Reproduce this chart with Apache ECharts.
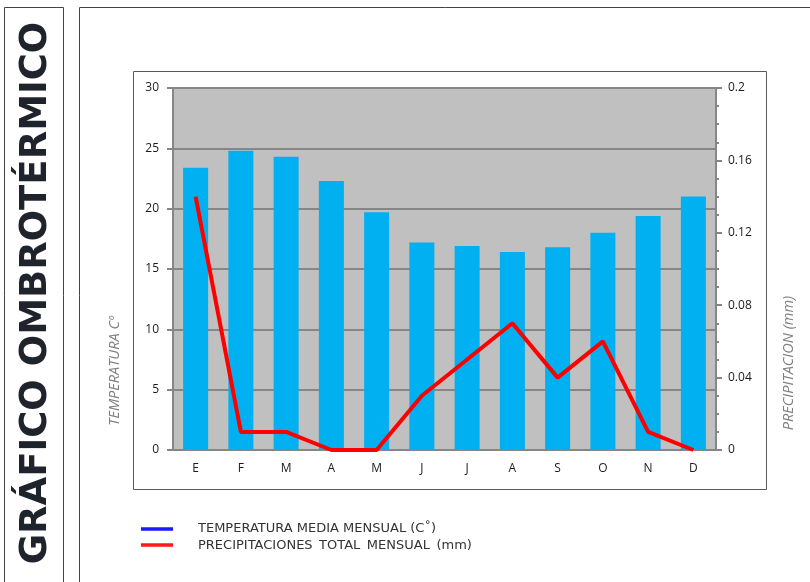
<!DOCTYPE html>
<html>
<head>
<meta charset="utf-8">
<script src="https://cdn.jsdelivr.net/npm/echarts@6/dist/echarts.min.js"></script>
<style>
  html, body { margin: 0; padding: 0; background: #fff; }
  #chart { width: 810px; height: 582px; }
</style>
</head>
<body>
<div id="chart"></div>
<script>
// meses
const months = ['E', 'F', 'M', 'A', 'M', 'J', 'J', 'A', 'S', 'O', 'N', 'D']
// temperatura media mensual (C)
const temperatura = [23.4, 24.8, 24.3, 22.3, 19.7, 17.2, 16.9, 16.4, 16.8, 18.0, 19.4, 21.0]
// precipitacion total mensual (mm)
const precipitacion = [0.14, 0.01, 0.01, 0, 0, 0.03, 0.05, 0.07, 0.04, 0.06, 0.01, 0]

const legendItems = ['TEMPERATURA MEDIA MENSUAL (C˚)', 'PRECIPITACIONES TOTAL MENSUAL (mm)']

const chart = echarts.init(document.getElementById('chart'), null, { renderer: 'canvas' })

const tickFont = { color: '#1a1a1a', fontSize: 12, fontFamily: 'Open Sans' }

chart.setOption({
  animation: false,
  grid: {
    left: 173, right: 94, top: 88, bottom: 132,
    show: true, backgroundColor: '#c0c0c0', borderWidth: 0
  },
  graphic: [
    // paneles
    { type: 'rect', shape: { x: 4.5, y: 7.5, width: 59, height: 600 }, style: { fill: 'none', stroke: '#444', lineWidth: 1 } },
    { type: 'rect', shape: { x: 79.5, y: 7.5, width: 760, height: 600 }, style: { fill: 'none', stroke: '#444', lineWidth: 1 } },
    { type: 'rect', shape: { x: 133.5, y: 71.5, width: 633, height: 418 }, style: { fill: 'none', stroke: '#595959', lineWidth: 1 } },
    {
      type: 'text', x: 36, y: 293, rotation: Math.PI / 2,
      style: {
        text: 'GRÁFICO OMBROTÉRMICO', fill: '#1f232b',
        font: 'bold 37px "DejaVu Sans"', align: 'center', verticalAlign: 'middle'
      }
    },
    {
      type: 'text', x: 115, y: 371, rotation: Math.PI / 2,
      style: {
        text: 'TEMPERATURA Cº', fill: '#808080',
        font: 'italic 14.5px "Open Sans"', align: 'center', verticalAlign: 'middle'
      }
    },
    {
      type: 'text', x: 789, y: 363, rotation: Math.PI / 2,
      style: {
        text: 'PRECIPITACION (mm)', fill: '#808080',
        font: 'italic 14.5px "Open Sans"', align: 'center', verticalAlign: 'middle'
      }
    },
    // leyenda
    { type: 'line', shape: { x1: 141, y1: 529, x2: 173, y2: 529 }, style: { stroke: '#1a1aff', lineWidth: 3.5 } },
    { type: 'line', shape: { x1: 141, y1: 545, x2: 173, y2: 545 }, style: { stroke: '#ff1a1a', lineWidth: 3.5 } },
    { type: 'text', x: 198, y: 529, style: { text: legendItems[0], fill: '#333', font: '13px "DejaVu Sans"', verticalAlign: 'middle' } },
    { type: 'text', x: 198, y: 546, style: { text: legendItems[1].replace(/ /g, '\u2002'), fill: '#333', font: '13px "DejaVu Sans"', verticalAlign: 'middle' } }
  ],
  xAxis: {
    type: 'category',
    data: months,
    axisLine: { lineStyle: { color: '#868686', width: 2 } },
    axisTick: { show: false },
    axisLabel: { ...tickFont, margin: 13 }
  },
  yAxis: [
    {
      type: 'value', min: 0, max: 30, interval: 5,
      axisLine: { show: true, lineStyle: { color: '#868686', width: 2 } },
      axisTick: { show: true, length: 6, lineStyle: { color: '#868686', width: 2 } },
      axisLabel: { ...tickFont, margin: 14 },
      splitLine: { lineStyle: { color: '#868686', width: 2 } }
    },
    {
      type: 'value', min: 0, max: 0.2, interval: 0.04,
      axisLine: { show: true, lineStyle: { color: '#868686', width: 2 } },
      axisTick: { show: true, length: 6, lineStyle: { color: '#868686', width: 2 } },
      minorTick: { show: true, splitNumber: 4, length: 3, lineStyle: { color: '#868686', width: 2 } },
      axisLabel: { ...tickFont, margin: 12 },
      splitLine: { show: false }
    }
  ],
  series: [
    {
      name: legendItems[0],
      type: 'bar',
      data: temperatura,
      barWidth: 25,
      itemStyle: { color: '#00b0f0' }
    },
    {
      name: legendItems[1],
      type: 'line',
      yAxisIndex: 1,
      data: precipitacion,
      symbol: 'none',
      lineStyle: { color: '#ff0000', width: 4 }
    }
  ]
})

window.addEventListener('resize', () => chart.resize())
</script>
</body>
</html>
